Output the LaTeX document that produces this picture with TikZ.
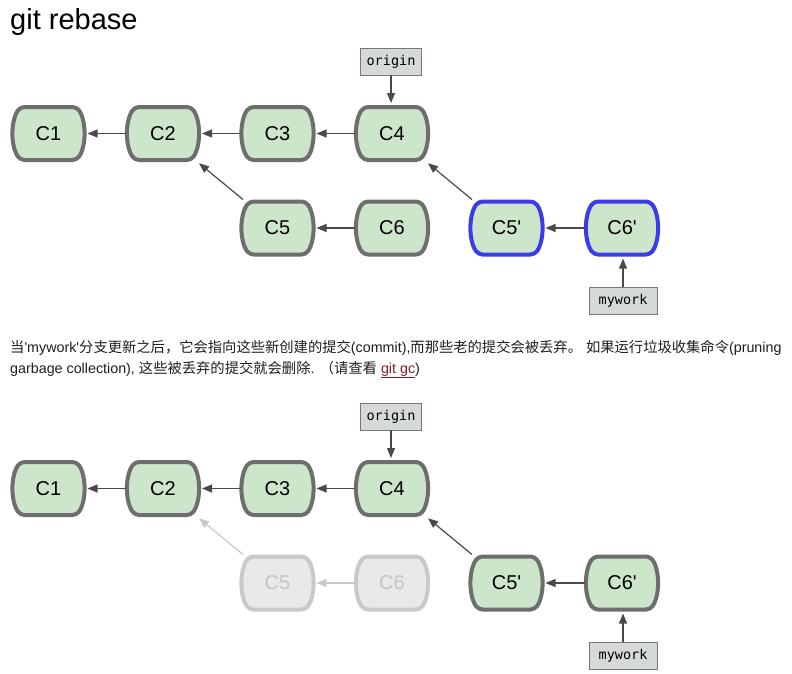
\documentclass[tikz,border=0pt]{standalone}
\usepackage{fontspec}
\setmainfont{Liberation Sans}[Ligatures=TeXOff]
\newfontfamily\cjk{Noto Sans CJK SC}
\newfontfamily\monof{DejaVu Sans Mono}
\usetikzlibrary{arrows.meta,calc}
\definecolor{cgreen}{HTML}{CDE5CA}
\definecolor{cgray}{HTML}{6E6E6E}
\definecolor{cblue}{HTML}{3B3BE8}
\definecolor{ffill}{HTML}{E7EAE7}
\definecolor{fgray}{HTML}{C9C9C9}
\definecolor{ftext}{HTML}{C4C4C4}
\definecolor{bfill}{HTML}{D6DAD6}
\definecolor{bgray}{HTML}{777777}
\definecolor{agray}{HTML}{4A4A4A}
\definecolor{linkred}{HTML}{8A1C2A}
\definecolor{bodytext}{HTML}{1E1E1E}
\tikzset{
  cshape/.style={line width=4pt, rounded corners=4pt, draw=cgray, fill=cgreen},
  newshape/.style={cshape, draw=cblue},
  oldshape/.style={cshape, draw=fgray, fill=ffill},
  commit/.style={rectangle, minimum width=70pt, minimum height=53pt,
    inner sep=0pt, outer sep=2pt, font=\fontsize{20}{24}\selectfont},
  oldc/.style={commit, text=ftext},
  refbox/.style={draw=bgray, fill=bfill, line width=0.8pt, minimum height=27pt,
    inner sep=0pt, font=\monof\fontsize{13.5}{16}\selectfont},
  arr/.style={-{Triangle[length=10pt,width=8pt]}, line width=1.2pt, draw=agray,
    shorten >=2pt},
  fadearr/.style={arr, draw=fgray},
  para/.style={anchor=base west, inner sep=0pt, text=bodytext,
    font=\fontsize{14.3}{16}\selectfont}
}
% shape of a commit, drawn round the point #2 with the style #1
\newcommand\commitbody[2]{%
  \path[#1] ($(#2)+(0,-26.5)$) -- ($(#2)+(28,-26.5)$)
    .. controls ($(#2)+(38,-13)$) and ($(#2)+(38,13)$) .. ($(#2)+(28,26.5)$)
    -- ($(#2)+(-28,26.5)$)
    .. controls ($(#2)+(-38,13)$) and ($(#2)+(-38,-13)$) .. ($(#2)+(-28,-26.5)$)
    -- cycle;}
\newcommand\zh[1]{{\cjk #1}}
\begin{document}
\begin{tikzpicture}[x=1pt,y=-1pt]
\fill[white] (0,0) rectangle (792,673);
\path[use as bounding box] (0,0) rectangle (792,673);
\node[anchor=base west, inner sep=0pt, font=\fontsize{29}{34}\selectfont] (title) at (10,29) {git rebase};
% ---- first diagram ----
\commitbody{cshape}{48.5,133.5}
\commitbody{cshape}{163,133.5}
\commitbody{cshape}{277.5,133.5}
\commitbody{cshape}{392,133.5}
\commitbody{cshape}{277.5,228}
\commitbody{cshape}{392,228}
\commitbody{newshape}{506.5,228}
\commitbody{newshape}{622,228}
\node[commit] (a1) at (48.5,133.5) {C1};
\node[commit] (a2) at (163,133.5) {C2};
\node[commit] (a3) at (277.5,133.5) {C3};
\node[commit] (a4) at (392,133.5) {C4};
\node[commit] (a5) at (277.5,228) {C5};
\node[commit] (a6) at (392,228) {C6};
\node[commit] (a5p) at (506.5,228) {C5'};
\node[commit] (a6p) at (622,228) {C6'};
\node[refbox, minimum width=61pt] (aorig) at (391,61.5) {origin};
\node[refbox, minimum width=68pt] (awork) at (623,300.5) {mywork};
\draw[arr] (a2) -- (a1);
\draw[arr] (a3) -- (a2);
\draw[arr] (a4) -- (a3);
\draw[arr] (a5) -- (a2);
\draw[arr] (a6) -- (a5);
\draw[arr] (a5p) -- (a4);
\draw[arr] (a6p) -- (a5p);
\draw[arr] (aorig) -- (aorig |- a4.north);
\draw[arr] (awork) -- (awork |- a6p.south);
% ---- text ----
\node[para] (p1) at (10,352) {\zh{当}'mywork'\zh{分支更新之后，它会指向这些新创建的提交}(commit),\zh{而那些老的提交会被丢弃。} \zh{如果运行垃圾收集命令}(pruning};
\node[para] (p2) at (10,373) {garbage collection), \zh{这些被丢弃的提交就会删除}. \zh{（请查看} \textcolor{linkred}{\underline{git gc}})};
% ---- second diagram ----
\commitbody{cshape}{48.5,488.5}
\commitbody{cshape}{163,488.5}
\commitbody{cshape}{277.5,488.5}
\commitbody{cshape}{392,488.5}
\commitbody{oldshape}{277.5,583}
\commitbody{oldshape}{392,583}
\commitbody{cshape}{506.5,583}
\commitbody{cshape}{622,583}
\node[commit] (b1) at (48.5,488.5) {C1};
\node[commit] (b2) at (163,488.5) {C2};
\node[commit] (b3) at (277.5,488.5) {C3};
\node[commit] (b4) at (392,488.5) {C4};
\node[oldc] (b5) at (277.5,583) {C5};
\node[oldc] (b6) at (392,583) {C6};
\node[commit] (b5p) at (506.5,583) {C5'};
\node[commit] (b6p) at (622,583) {C6'};
\node[refbox, minimum width=61pt] (borig) at (391,416.5) {origin};
\node[refbox, minimum width=68pt] (bwork) at (623,655.5) {mywork};
\draw[arr] (b2) -- (b1);
\draw[arr] (b3) -- (b2);
\draw[arr] (b4) -- (b3);
\draw[fadearr] (b5) -- (b2);
\draw[fadearr] (b6) -- (b5);
\draw[arr] (b5p) -- (b4);
\draw[arr] (b6p) -- (b5p);
\draw[arr] (borig) -- (borig |- b4.north);
\draw[arr] (bwork) -- (bwork |- b6p.south);
\end{tikzpicture}
\end{document}
